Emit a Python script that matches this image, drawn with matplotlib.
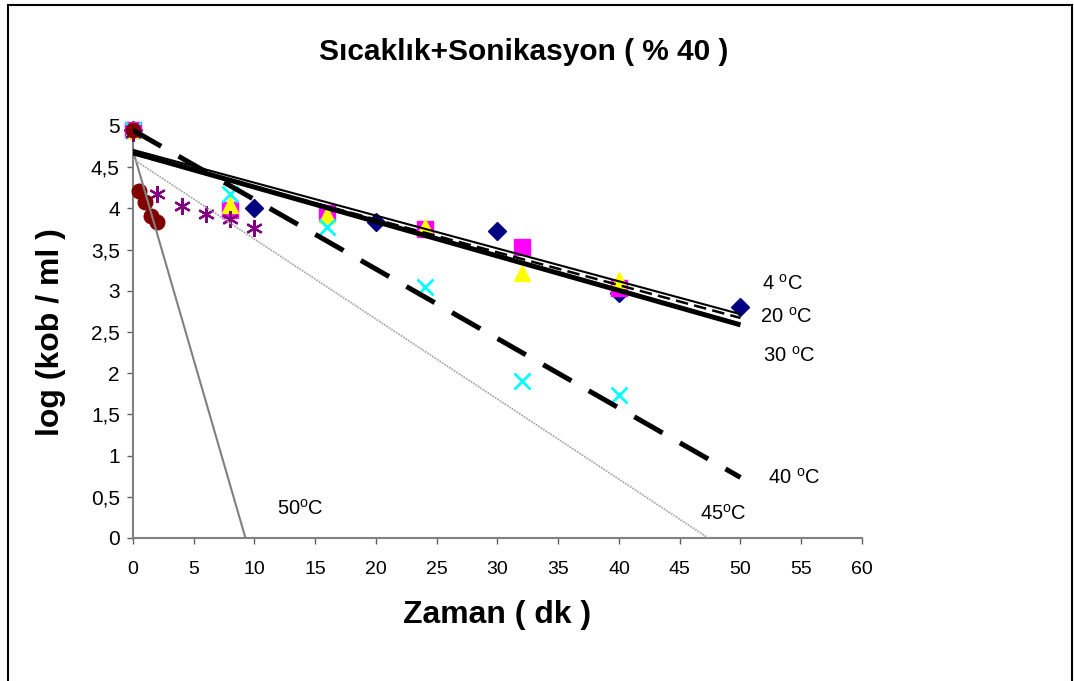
import numpy as np
import matplotlib
matplotlib.use("Agg")
import matplotlib.pyplot as plt
from matplotlib.patches import Rectangle
from matplotlib.ticker import FuncFormatter

plt.rcParams['font.family'] = ['Liberation Sans', 'DejaVu Sans']

# data (time in min, log cfu/ml)
t_4 = [0, 10, 20, 30, 40, 50]
y_4 = [4.95, 4.00, 3.84, 3.72, 2.97, 2.80]
t_20 = [0, 8, 16, 24, 32, 40]
y_20 = [4.95, 3.98, 3.95, 3.75, 3.53, 3.03]
t_30 = [0, 8, 16, 24, 32, 40]
y_30 = [4.95, 4.04, 3.92, 3.78, 3.22, 3.13]
t_40 = [0, 8, 16, 24, 32, 40]
y_40 = [4.95, 4.17, 3.78, 3.04, 1.90, 1.74]
t_45 = [0, 2, 4, 6, 8, 10]
y_45 = [4.92, 4.17, 4.03, 3.93, 3.87, 3.76]
t_50 = [0, 0.5, 1, 1.5, 2]
y_50 = [4.95, 4.21, 4.08, 3.91, 3.83]

fig = plt.figure(figsize=(10.74, 6.81), dpi=100)
ax = fig.add_axes([0.1238, 0.21, 0.6788, 0.605])

# markers (not clipped, like Excel)
mk = dict(linestyle='none', zorder=3, clip_on=False)
ax.plot(t_4, y_4, marker='D', ms=9, color='#000080', **mk)
ax.plot(t_20, y_20, marker='s', ms=11, color='#FF00FF', **mk)
ax.plot(t_30, y_30, marker='^', ms=12, color='#FFFF00', **mk)
ax.plot(t_40, y_40, marker='x', ms=11, mew=2, color='#00FFFF', **mk)
ax.plot(t_45, y_45, marker=(6, 2, 0), ms=12, mew=1.6, color='#800080', **mk)
ax.plot(t_50, y_50, marker='o', ms=10.5, color='#800000', **mk)

# linear trend lines (Excel style, forecast to 50 min)
xx = np.array([0, 50])
def trend(t, y):
    k, b = np.polyfit(t, y, 1)
    return k * xx + b

ax.plot(xx, trend(t_50, y_50), color='#808080', lw=1.5, zorder=4)
ax.plot(xx, trend(t_45, y_45), color='#aaaaaa', lw=1.3, linestyle=(0, (1, 0.6)), zorder=4)
ax.plot(xx, trend(t_40, y_40), color='black', lw=3.6, dashes=(6.5, 4), zorder=4)
ax.plot(xx, trend(t_30, y_30), color='black', lw=3.6, solid_capstyle='butt', zorder=4)
ax.plot(xx, trend(t_20, y_20), color='black', lw=1.8, dashes=(5, 2.5), zorder=4)
ax.plot(xx, trend(t_4, y_4), color='black', lw=1.5, zorder=4)

lab = dict(fontsize=14.5, va='center', ha='left')
ax.text(51.8, 3.09, r'4 $\mathregular{^{o}}$C', **lab)
ax.text(51.6, 2.68, r'20 $\mathregular{^{o}}$C', **lab)
ax.text(51.85, 2.21, r'30 $\mathregular{^{o}}$C', **lab)
ax.text(52.3, 0.73, r'40 $\mathregular{^{o}}$C', **lab)
ax.text(46.7, 0.30, r'45$\mathregular{^{o}}$C', **lab)
ax.text(11.85, 0.36, r'50$\mathregular{^{o}}$C', **lab)

ax.set_xlim(0, 60)
ax.set_ylim(0, 5)
ax.set_xticks(np.arange(0, 61, 5))
ax.set_yticks(np.arange(0, 5.01, 0.5))
ax.yaxis.set_major_formatter(FuncFormatter(lambda v, p: ('%g' % v).replace('.', ',')))
for s in ['top', 'right']:
    ax.spines[s].set_visible(False)
for s in ['left', 'bottom']:
    ax.spines[s].set_color('#808080')
    ax.spines[s].set_linewidth(1.5)
ax.tick_params(direction='out', length=4.5, width=1, color='#606060')
ax.tick_params(axis='x', pad=12, labelsize=14)
ax.tick_params(axis='y', pad=5, labelsize=15)

ax.set_xlabel('Zaman ( dk )', fontsize=23, fontweight='bold', labelpad=16)
ax.set_ylabel('log (kob / ml )', fontsize=23, fontweight='bold', labelpad=18)
fig.text(524 / 1074, 1 - 52 / 681, 'Sıcaklık+Sonikasyon ( % 40 )', fontsize=21.5,
         fontweight='bold', ha='center', va='center')

# outer chart border
fig.patches.append(Rectangle((8 / 1074, -0.05), 1064 / 1074, 1.05 - 5 / 681,
                             transform=fig.transFigure, fill=False,
                             edgecolor='black', lw=1.5))

fig.savefig('out.png', dpi=100)
